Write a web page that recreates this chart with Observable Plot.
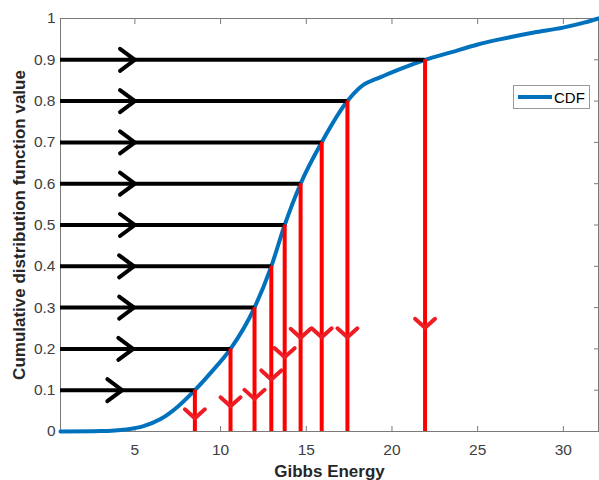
<!DOCTYPE html>
<html>
<head>
<meta charset="utf-8">
<script src="https://cdn.jsdelivr.net/npm/d3@7"></script>
<script src="https://cdn.jsdelivr.net/npm/@observablehq/plot@0.6"></script>
<style>
  html, body { margin: 0; padding: 0; background: white; }
  #wrap { position: relative; width: 599px; height: 480px; font-family: "Liberation Sans", Arial, sans-serif; }
  #legend { position: absolute; left: 513px; top: 85px; width: 77px; height: 24px; border: 1px solid #999; background: white; box-sizing: border-box; }
  #legend .sw { position: absolute; left: 4px; top: 11px; width: 34px; height: 4px; background: #0072BD; transform: translateY(-2px); }
  #legend .lb { position: absolute; left: 40px; top: 3px; font-size: 15px; color: #000; }
</style>
</head>
<body>
<div id="wrap"><div id="legend"><div class="sw"></div><div class="lb">CDF</div></div></div>
<script>
// ---- data ----
const cdfX = [0.66, 3.0, 4.5, 5.5, 6.5, 7.5, 8.5, 9.42, 10.58, 11.98, 12.96, 13.74, 14.67, 15.9, 17.4, 18.17, 19.34, 20.5, 21.93, 23.43, 25.0, 26.35, 28.29, 29.98, 31.21, 32.05];
const cdfY = [0, 0.001, 0.005, 0.013, 0.03, 0.06, 0.1, 0.142, 0.2, 0.3, 0.4, 0.5, 0.6, 0.7, 0.8, 0.834, 0.858, 0.878, 0.9, 0.918, 0.937, 0.950, 0.966, 0.978, 0.99, 1.0];
const levels = [0.1, 0.2, 0.3, 0.4, 0.5, 0.6, 0.7, 0.8, 0.9];
const quantiles = [8.50, 10.58, 11.98, 12.96, 13.74, 14.67, 15.90, 17.40, 21.93];
const rightArrowX = [4.26, 4.9, 4.95, 4.95, 5.0, 5.0, 5.0, 5.0, 5.0];
const downArrowY = [0.032, 0.061, 0.079, 0.126, 0.18, 0.227, 0.228, 0.228, 0.251];
const xTicks = [5, 10, 15, 20, 25, 30];
const yTicks = [0, 0.1, 0.2, 0.3, 0.4, 0.5, 0.6, 0.7, 0.8, 0.9, 1];
const xDomain = [0.66, 32.05];
const xLabel = "Gibbs Energy";
const yLabel = "Cumulative distribution function value";

const curve = cdfX.map((x, i) => ({x, y: cdfY[i]}));
const marksData = levels.map((y, i) => ({y, x: quantiles[i], ax: rightArrowX[i], ay: downArrowY[i]}));

// chevron symbols (vertex at origin, pointing right)
const chevronBlack = {draw(ctx, size) { const s = Math.sqrt(size / Math.PI); ctx.moveTo(-1.35 * s, -s); ctx.lineTo(0, 0); ctx.lineTo(-1.35 * s, s); }};
const chevronRed = {draw(ctx, size) { const s = Math.sqrt(size / Math.PI); ctx.moveTo(-0.9 * s, -s); ctx.lineTo(0, 0); ctx.lineTo(-0.9 * s, s); }};

const axisColor = "#7a7a7a";
const chart = Plot.plot({
  width: 599, height: 480,
  marginLeft: 60, marginRight: 1, marginTop: 18, marginBottom: 49,
  x: {domain: xDomain},
  y: {domain: [0, 1]},
  style: {fontFamily: "'Liberation Sans', Arial, sans-serif", fontSize: "15.5px", color: "#404040", background: "white"},
  marks: [
    Plot.frame({stroke: axisColor}),
    Plot.axisX({ticks: xTicks, tickSize: 0, tickPadding: 12, tickFormat: d => String(d), label: null}),
    Plot.axisX({ticks: xTicks, tickSize: -5, text: null, label: null, stroke: axisColor}),
    Plot.axisX({anchor: "top", ticks: xTicks, tickSize: -5, text: null, label: null, stroke: axisColor}),
    Plot.axisY({ticks: yTicks, tickSize: 0, tickPadding: 5, tickFormat: d => String(d), label: null}),
    Plot.axisY({ticks: yTicks, tickSize: -5, text: null, label: null, stroke: axisColor}),
    Plot.axisY({anchor: "right", ticks: yTicks, tickSize: -5, text: null, label: null, stroke: axisColor}),
    Plot.line(curve, {x: "x", y: "y", stroke: "#0072BD", strokeWidth: 4, curve: "monotone-x"}),
    Plot.ruleY(marksData, {y: "y", x1: xDomain[0], x2: "x", stroke: "black", strokeWidth: 4}),
    Plot.ruleX(marksData, {x: "x", y1: 0, y2: "y", stroke: "red", strokeWidth: 4}),
    Plot.dot(marksData, {x: "ax", y: "y", symbol: chevronBlack, r: 11, fill: "none", stroke: "black", strokeWidth: 4, strokeLinecap: "round", strokeLinejoin: "miter"}),
    Plot.dot(marksData, {x: "x", y: "ay", symbol: chevronRed, r: 10, rotate: 90, fill: "none", stroke: "#ee1c25", strokeWidth: 4, strokeLinecap: "round"}),
    Plot.text([xLabel], {frameAnchor: "bottom", lineAnchor: "middle", textAnchor: "middle", dy: 40, fontWeight: "bold", fontSize: 17, fill: "#262626"}),
    Plot.text([yLabel], {frameAnchor: "left", lineAnchor: "middle", textAnchor: "middle", dx: -41, rotate: -90, fontWeight: "bold", fontSize: 17, fill: "#262626"})
  ]
});
document.getElementById("wrap").prepend(chart);
</script>
</body>
</html>
